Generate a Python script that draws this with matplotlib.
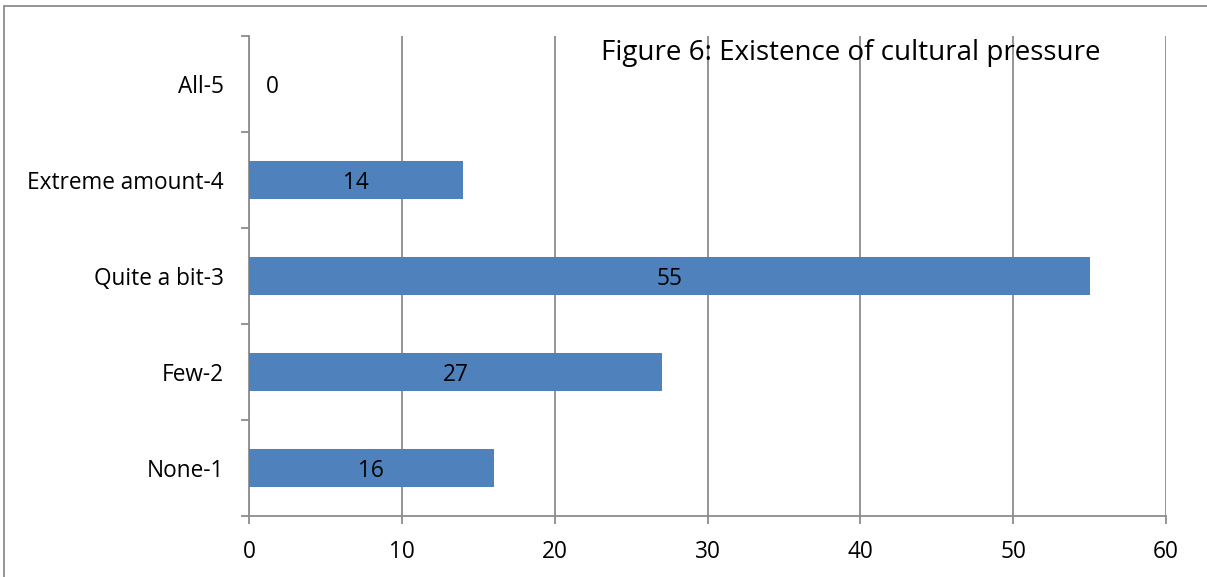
import matplotlib.pyplot as plt
from matplotlib.patches import Rectangle

categories = ['None-1', 'Few-2', 'Quite a bit-3', 'Extreme amount-4', 'All-5']
counts = [16, 27, 55, 14, 0]
xticks = [0, 10, 20, 30, 40, 50, 60]

plt.rcParams['font.family'] = ['Open Sans', 'DejaVu Sans']

fig = plt.figure(figsize=(12.07, 5.77), dpi=100)
ax = fig.add_axes([249 / 1207, 1 - 516 / 577, 917 / 1207, 480 / 577])

grid_col = '#8c8c8c'
fs = 16.3
ypos = list(range(len(categories)))
ax.barh(ypos, counts, height=0.4, color='#4f81bd', zorder=3)

# value labels sit in the middle of each bar; a zero bar gets its label just right of the axis
for y, v in zip(ypos, counts):
    dx = 0 if v > 0 else 23
    ax.annotate(str(v), (v / 2, y), xytext=(dx, -3), textcoords='offset pixels',
                ha='center', va='center', fontsize=fs, zorder=4)

ax.set_xlim(0, 60)
ax.set_ylim(-0.5, len(categories) - 0.5)
ax.set_xticks(xticks)
ax.set_yticks(ypos)
ax.set_yticklabels(categories)
ax.set_yticks([i - 0.5 for i in range(len(categories) + 1)], minor=True)

ax.tick_params(axis='y', which='major', length=0, pad=18, labelsize=fs)
ax.tick_params(axis='y', which='minor', length=6, width=1.3, color=grid_col, direction='out')
ax.tick_params(axis='x', length=6, width=1.3, color=grid_col, pad=11, labelsize=fs)

ax.grid(axis='x', color=grid_col, linewidth=1.3, zorder=0)
for side in ['top', 'right']:
    ax.spines[side].set_visible(False)
for side in ['left', 'bottom']:
    ax.spines[side].set_color(grid_col)
    ax.spines[side].set_linewidth(1.3)

fig.text(601 / 1207, 1 - 60 / 577, 'Figure 6: Existence of cultural pressure',
         fontsize=20, ha='left', va='baseline')

# outer chart frame
fig.patches.append(Rectangle((4 / 1207, -0.1), 1.2, 1.1 - 6 / 577, transform=fig.transFigure,
                             fill=False, edgecolor='#8c8c8c', linewidth=1.3))

fig.savefig('out.png', dpi=100)
